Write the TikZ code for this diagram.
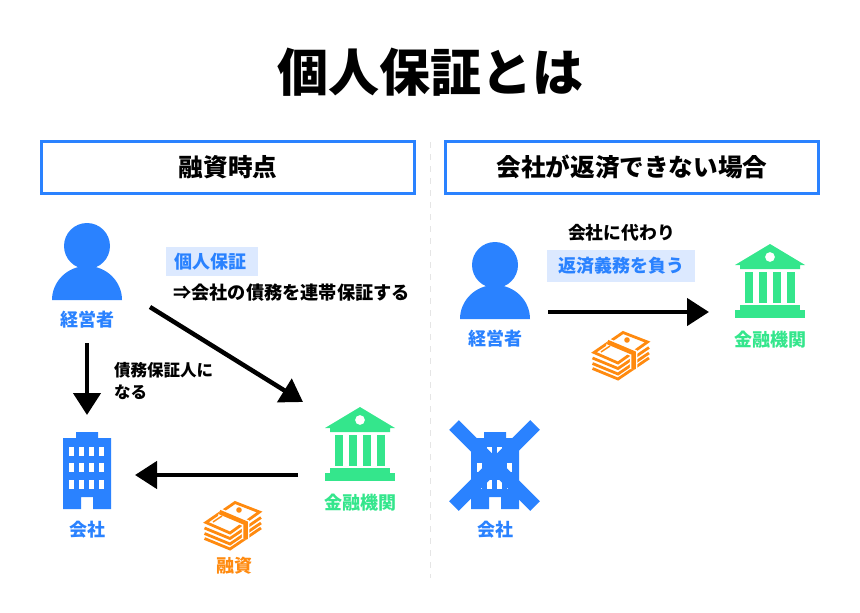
\documentclass[tikz,border=0pt]{standalone}
\usepackage{fontspec}
\setmainfont{Noto Sans CJK JP}
\usepackage{xcolor}
\usetikzlibrary{arrows.meta}
\definecolor{myblue}{HTML}{2A82FF}
\definecolor{mygreen}{HTML}{34E68C}
\definecolor{myorange}{HTML}{FF8A0F}
\definecolor{mylight}{HTML}{DCE9FF}
\newcommand{\px}[1]{\fontsize{#1}{#1}\selectfont}

\tikzset{
  lbl/.style={inner sep=0pt, font=\px{18}\bfseries},
  hd/.style={draw=myblue, line width=3.3pt, minimum width=373pt, minimum height=52pt, font=\px{24.6}\bfseries},
  hilite/.style={fill=mylight, inner sep=0pt, text=myblue, font=\px{18}\bfseries},
  arr/.style={line width=4.5pt, -{Triangle[length=22pt, width=27pt]}},
  % person, origin at the head
  person/.pic={
    \fill[myblue] (0,0) circle (23);
    \fill[myblue] (-35,54) arc (180:360:35 and 34) -- cycle;
  },
  % office, origin at the bottom middle
  office/.pic={
    \fill[myblue] (-24,0) -- (-24,-71) -- (-11,-71) -- (-11,-77) -- (11,-77) -- (11,-71) -- (24,-71) -- (24,0) -- (6,0) -- (6,-12) -- (-6,-12) -- (-6,0) -- cycle;
    \foreach \y in {-62,-46,-29} \foreach \x in {-18,-8,2,12}
      \fill[white] (\x,\y) rectangle ++(5,8.5);
  },
  % bank, origin at the roof top
  bank/.pic={
    \fill[mygreen, even odd rule] (0,0) -- (35,21) -- (30,21) -- (30,25) -- (-30,25) -- (-30,21) -- (-35,21) -- cycle (0,13) circle (5);
    \foreach \x in {-25,-11,3,17}
      \fill[mygreen] (\x,28) rectangle ++(8,31);
    \fill[mygreen] (-30,61) rectangle (30,67);
    \fill[mygreen] (-35,66) rectangle (35,74);
  },
  % stack of notes, origin at the upper left corner of its box
  money/.pic={
    \begin{scope}[myorange, line width=2.8pt, line join=miter]
      \draw (2,21.5) -- (31,1.5) -- (55.5,11) -- (26,32) -- cycle;
      \foreach \d in {5.5,11,16}
        \draw (0.5,21.5+\d) -- (26,32+\d) -- (57,11+\d);
      % paper band round the stack
      \draw[white, line width=7.5pt] (15.5,11) -- (41.5,22) -- (41.5,38);
      \draw[line width=4.5pt] (15.5,11) -- (41.5,22) -- (41.5,38);
      \fill (35,9) circle (2.8);
      \draw[line width=1.5pt] (9,21) -- (18,15);
    \end{scope}
  },
}

\begin{document}
\begin{tikzpicture}[x=1pt, y=-1pt]
\useasboundingbox (0,0) rectangle (860,613);

% title and panels
\node[inner sep=0pt, font=\px{51}\bfseries] (title) at (430,72) {個人保証とは};
\node[hd] (left) at (228,167.5) {融資時点};
\node[hd] (right) at (632,167.5) {会社が返済できない場合};
\coordinate (sepa) at (430.5,142);
\coordinate (sepb) at (430.5,578);
\draw[black!10, line width=1pt, dash pattern=on 6pt off 6pt] (sepa) -- (sepb);

% left panel
\pic at (87,246) {person};
\node[lbl, text=myblue] (boss) at (87,320) {経営者};
\pic at (87,509) {office};
\node[lbl, text=myblue] (comp) at (87,530) {会社};
\pic at (360,407) {bank};
\node[lbl, text=mygreen] (bank) at (360,503) {金融機関};
\pic at (204,501) {money};
\node[lbl, text=myorange] (loan) at (234.5,566) {融資};

\node[hilite, minimum width=92pt, minimum height=29pt] (guarbox) at (212,261.5) {};
\node[lbl, text=myblue] (guar) at (210,261.5) {個人保証};
\node[lbl, anchor=west, font=\px{18.2}\bfseries] (guartxt) at (173,293) {⇒会社の債務を連帯保証する};
\node[lbl, anchor=west, align=left, font=\px{16.5}\bfseries] (become) at (114,381) {債務保証人に\\[6pt]なる};

\coordinate (a1) at (87,343);
\coordinate (a2) at (87,415);
\coordinate (b1) at (150,307);
\coordinate (b2) at (303,402);
\coordinate (c1) at (298,475);
\coordinate (c2) at (135,475);
\draw[arr] (a1) -- (a2);
\draw[arr] (b1) -- (b2);
\draw[arr] (c1) -- (c2);

% right panel
\pic at (495,265) {person};
\node[lbl, text=myblue] (boss2) at (495,339) {経営者};
\pic at (770,244) {bank};
\node[lbl, text=mygreen] (bank2) at (770,340) {金融機関};
\pic at (592,331) {money};
\pic at (495,509) {office};
\coordinate (x1) at (454,425);
\coordinate (x2) at (535,506);
\coordinate (x3) at (535,425);
\coordinate (x4) at (454,506);
\draw[myblue, line width=13.5pt] (x1) -- (x2);
\draw[myblue, line width=13.5pt] (x3) -- (x4);
\node[lbl, text=myblue] (comp2) at (495,530) {会社};

\node[lbl, font=\px{17.8}\bfseries] (instead) at (621.5,233) {会社に代わり};
\node[hilite, minimum width=148pt, minimum height=32pt] (duty) at (621,266) {返済義務を負う};

\coordinate (d1) at (548,312);
\coordinate (d2) at (709,312);
\draw[arr] (d1) -- (d2);
\end{tikzpicture}
\end{document}
